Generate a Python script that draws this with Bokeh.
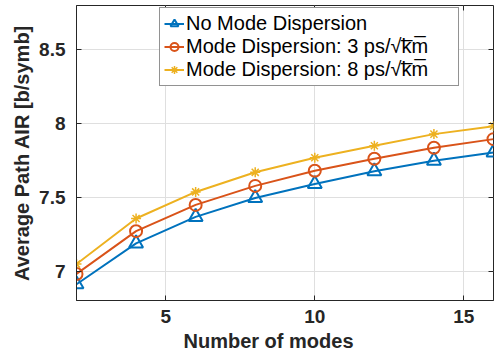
from bokeh.plotting import figure
from bokeh.models import LinearAxis, FixedTicker, Range1d, Legend, LegendItem, Title
from bokeh.embed import file_html
from bokeh.resources import INLINE

modes = [2, 4, 6, 8, 10, 12, 14, 16]
air_none = [6.91, 7.187, 7.367, 7.495, 7.59, 7.676, 7.748, 7.804]
air_3ps = [6.98, 7.27, 7.448, 7.577, 7.68, 7.761, 7.836, 7.894]
air_8ps = [7.047, 7.356, 7.536, 7.669, 7.768, 7.849, 7.928, 7.982]

x_ticks = [5, 10, 15]
y_ticks = [7, 7.5, 8, 8.5]
y_tick_labels = {7: "7", 7.5: "7.5", 8: "8", 8.5: "8.5"}
x_title = "Number of modes"
y_title = "Average Path AIR [b/symb]"

labels = ["No Mode Dispersion",
          "Mode Dispersion: 3 ps/√k̅m̅",
          "Mode Dispersion: 8 ps/√k̅m̅"]
colors = ["#0072BD", "#D95319", "#EDB120"]

FONT = "Liberation Sans"
AX = "#262626"

p = figure(width=495, height=354, output_backend="svg", toolbar_location=None,
           x_range=Range1d(2, 16), y_range=Range1d(6.8, 8.8),
           min_border_left=76, min_border_right=2, min_border_top=5, min_border_bottom=54)
p.outline_line_color = AX
p.outline_line_width = 1

for ax in (p.xaxis[0], p.yaxis[0]):
    ax.major_tick_in = 5
    ax.major_tick_out = 0
    ax.minor_tick_line_color = None
    ax.axis_line_color = AX
    ax.major_tick_line_color = AX
    ax.major_label_text_font = FONT
    ax.major_label_text_font_style = "bold"
    ax.major_label_text_font_size = "19px"
    ax.major_label_text_color = AX
    ax.axis_label_text_font = FONT
    ax.axis_label_text_font_style = "bold"
    ax.axis_label_text_font_size = "20px"
    ax.axis_label_text_color = AX

p.xaxis.ticker = FixedTicker(ticks=x_ticks)
p.yaxis.ticker = FixedTicker(ticks=y_ticks)
p.yaxis.major_label_overrides = y_tick_labels
p.yaxis.axis_label = y_title
p.xaxis.major_label_standoff = 9
p.yaxis.major_label_standoff = 11
p.yaxis.axis_label_standoff = 3

# x-axis title as a panel title below the axis, aligned like the reference
p.add_layout(Title(text=x_title, align="left", offset=107, standoff=5,
                   text_font=FONT, text_font_style="bold", text_font_size="20px",
                   text_color=AX), "below")

for loc, tick in (("right", y_ticks), ("above", x_ticks)):
    a = LinearAxis(ticker=FixedTicker(ticks=tick), major_tick_in=5, major_tick_out=0,
                   minor_tick_line_color=None, axis_line_color=None,
                   major_tick_line_color=AX, major_label_standoff=0,
                   major_label_overrides={t: "" for t in tick},
                   major_label_text_font_size="0px")
    p.add_layout(a, loc)

p.xgrid.ticker = FixedTicker(ticks=x_ticks)
p.ygrid.ticker = FixedTicker(ticks=y_ticks)
p.grid.grid_line_color = "#dfdfdf"
p.grid.grid_line_width = 1

l1 = p.line(modes, air_none, line_color=colors[0], line_width=2)
m1 = p.scatter(modes, air_none, marker="triangle", size=14, fill_color=None,
               line_color=colors[0], line_width=2)
l2 = p.line(modes, air_3ps, line_color=colors[1], line_width=2)
m2 = p.scatter(modes, air_3ps, marker="circle", size=12, fill_color=None,
               line_color=colors[1], line_width=2)
l3 = p.line(modes, air_8ps, line_color=colors[2], line_width=2)
m3 = p.scatter(modes, air_8ps, marker="asterisk", size=10,
               line_color=colors[2], line_width=1.5)

legend = Legend(items=[LegendItem(label=labels[0], renderers=[l1, m1]),
                       LegendItem(label=labels[1], renderers=[l2, m2]),
                       LegendItem(label=labels[2], renderers=[l3, m3])],
                location=(83, 214))
legend.label_text_font = FONT
legend.label_text_font_size = "20px"
legend.label_text_color = "#000000"
legend.glyph_width = 20
legend.glyph_height = 23
legend.label_height = 23
legend.label_width = 268
legend.label_standoff = 2
legend.spacing = 0
legend.padding = 4
legend.margin = 0
legend.border_line_color = AX
legend.border_line_width = 1
legend.background_fill_color = "white"
legend.background_fill_alpha = 1
p.add_layout(legend, "center")

open("out.html", "w").write(file_html(p, INLINE))
